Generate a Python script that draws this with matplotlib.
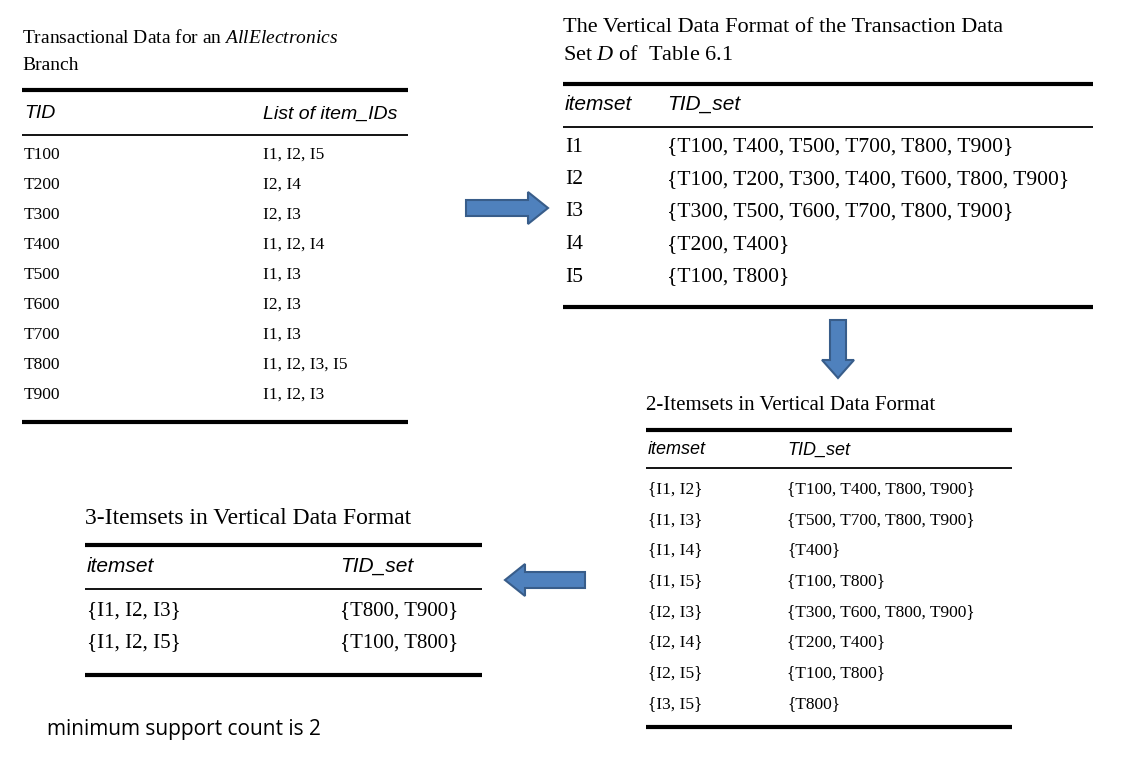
import matplotlib.pyplot as plt
from matplotlib.patches import FancyArrow

plt.rcParams['mathtext.fontset'] = 'custom'
plt.rcParams['mathtext.it'] = 'Liberation Serif:italic'
plt.rcParams['mathtext.rm'] = 'Liberation Serif'

tids = ['T100', 'T200', 'T300', 'T400', 'T500', 'T600', 'T700', 'T800', 'T900']
items = ['I1, I2, I5', 'I2, I4', 'I2, I3', 'I1, I2, I4', 'I1, I3', 'I2, I3',
         'I1, I3', 'I1, I2, I3, I5', 'I1, I2, I3']

v1_sets = ['I1', 'I2', 'I3', 'I4', 'I5']
v1_tids = ['{T100, T400, T500, T700, T800, T900}',
           '{T100, T200, T300, T400, T600, T800, T900}',
           '{T300, T500, T600, T700, T800, T900}',
           '{T200, T400}', '{T100, T800}']

v2_sets = ['{I1, I2}', '{I1, I3}', '{I1, I4}', '{I1, I5}',
           '{I2, I3}', '{I2, I4}', '{I2, I5}', '{I3, I5}']
v2_tids = ['{T100, T400, T800, T900}', '{T500, T700, T800, T900}', '{T400}',
           '{T100, T800}', '{T300, T600, T800, T900}', '{T200, T400}',
           '{T100, T800}', '{T800}']

v3_sets = ['{I1, I2, I3}', '{I1, I2, I5}']
v3_tids = ['{T800, T900}', '{T100, T800}']

serif = 'Liberation Serif'
sans = 'Liberation Sans'

fig = plt.figure(figsize=(11.45, 7.61), dpi=100)
ax = fig.add_axes([0, 0, 1, 1])
ax.set_xlim(0, 1145)
ax.set_ylim(761, 0)
ax.axis('off')


def hline(x0, x1, y, lw):
    ax.plot([x0, x1], [y, y], color='black', lw=lw, solid_capstyle='butt')


def table(x0, x1, top, head_y, thin_y, rows_y, bot, col2, h1, h2, c1, c2, fs, hfs):
    hline(x0, x1, top, 3)
    ax.text(x0 + 2, head_y, h1, family=sans, style='italic', fontsize=hfs, va='center')
    ax.text(col2, head_y, h2, family=sans, style='italic', fontsize=hfs, va='center')
    hline(x0, x1, thin_y, 1.3)
    for y, a, b in zip(rows_y, c1, c2):
        ax.text(x0 + 2, y, a, family=serif, fontsize=fs, va='center')
        ax.text(col2, y, b, family=serif, fontsize=fs, va='center')
    hline(x0, x1, bot, 3)


# table 1
ax.text(22, 38, 'Transactional Data for an $\\mathit{AllElectronics}$', family=serif, fontsize=14, va='center')
ax.text(22, 66, 'Branch', family=serif, fontsize=14, va='center')
table(22, 408, 90, 114, 135, [155 + 30 * i for i in range(9)], 422, 263,
      'TID', 'List of item_IDs', tids, items, 12.5, 14)

# table 2
ax.text(563, 27, 'The Vertical Data Format of the Transaction Data', family=serif, fontsize=16, va='center')
ax.text(563, 56, 'Set $\\mathit{D}$ of  Table 6.1', family=serif, fontsize=16, va='center')
table(563, 1093, 84, 104, 127, [147 + 32.5 * i for i in range(5)], 307, 667,
      'itemset', 'TID_set', v1_sets, v1_tids, 15.5, 15)

# table 3
ax.text(646, 405, '2-Itemsets in Vertical Data Format', family=serif, fontsize=15, va='center')
table(646, 1012, 430, 450, 468, [489 + 30.7 * i for i in range(8)], 727, 787,
      'itemset', 'TID_set', v2_sets, v2_tids, 12.5, 13)

# table 4
ax.text(85, 518, '3-Itemsets in Vertical Data Format', family=serif, fontsize=17, va='center')
table(85, 482, 545, 566, 589, [611, 643], 675, 340,
      'itemset', 'TID_set', v3_sets, v3_tids, 15, 15)

ax.text(47, 730, 'minimum support count is 2', family='Open Sans', fontsize=15, va='center')

arrow_kw = dict(facecolor='#4F81BD', edgecolor='#385D8A', lw=1.5, length_includes_head=True)
ax.add_patch(FancyArrow(466, 208, 82, 0, width=16, head_width=32, head_length=20, **arrow_kw))
ax.add_patch(FancyArrow(838, 320, 0, 58, width=16, head_width=32, head_length=18, **arrow_kw))
ax.add_patch(FancyArrow(585, 580, -80, 0, width=16, head_width=32, head_length=20, **arrow_kw))

fig.savefig('out.png', dpi=100)
